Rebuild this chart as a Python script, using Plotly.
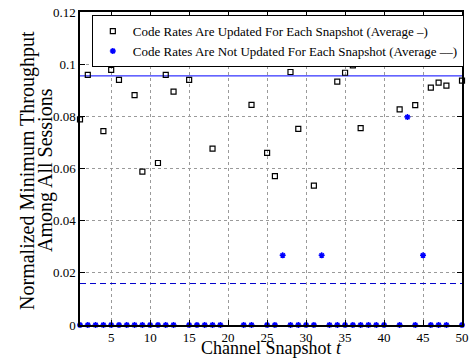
import plotly.graph_objects as go

# Channel snapshot index
snapshots = list(range(1, 51))

# Normalized minimum throughput, code rates updated each snapshot (None = not visible)
updated = [
    0.0788, 0.0959, 0.1045, 0.0743, 0.0978, 0.0940, 0.1045, 0.0881, 0.0588, None,
    0.0621, 0.0959, 0.0895, None, 0.0940, 0.1035, 0.1001, 0.0676, None, None,
    None, None, 0.0844, None, 0.0660, 0.0571, None, 0.0970, 0.0752, 0.1013,
    0.0534, None, None, 0.0933, 0.0967, 0.0995, 0.0755, None, None, None,
    None, 0.0827, None, 0.0843, None, 0.0910, 0.0929, 0.0918, 0.1024, 0.0937,
]

# Normalized minimum throughput, code rates fixed (None = not visible)
not_updated = [
    0, 0, 0, 0, 0, 0, 0, 0, 0, 0,
    0, 0, 0, None, 0, 0, 0, 0, 0, None,
    None, 0, 0, None, 0, 0, 0.0267, 0, 0, 0,
    0, 0.0267, 0, 0, 0, 0, 0, 0, 0, 0,
    None, 0, 0.0797, 0, 0.0267, 0, 0, 0, None, 0,
]

# Averages over all snapshots
avg_updated = 0.0955
avg_not_updated = 0.0159

x_ticks = [5, 10, 15, 20, 25, 30, 35, 40, 45, 50]
y_ticks = [0, 0.02, 0.04, 0.06, 0.08, 0.1, 0.12]
y_tick_text = ["0", "0.02", "0.04", "0.06", "0.08", "0.1", "0.12"]

serif = "Times New Roman"
blue = "#0000ff"

fig = go.Figure()

fig.add_trace(go.Scatter(
    x=[snapshots[0], snapshots[-1]], y=[avg_updated, avg_updated],
    mode="lines", line=dict(color=blue, width=1), showlegend=False, hoverinfo="skip",
))
fig.add_trace(go.Scatter(
    x=[snapshots[0], snapshots[-1]], y=[avg_not_updated, avg_not_updated],
    mode="lines", line=dict(color="#0000cc", width=1, dash="6px,4px"), showlegend=False, hoverinfo="skip",
))

fig.add_trace(go.Scatter(
    x=snapshots, y=updated, mode="markers",
    name="Code Rates Are Updated For Each Snapshot (Average \u2013)",
    marker=dict(symbol="square-open", size=5, color="black", line=dict(width=1.2, color="black")),
    cliponaxis=False,
))
fig.add_trace(go.Scatter(
    x=snapshots, y=not_updated, mode="markers",
    name="Code Rates Are Not Updated For Each Snapshot (Average \u2013\u2013)",
    marker=dict(symbol="asterisk-open", size=5, color=blue, line=dict(width=1.5, color=blue)),
    cliponaxis=False,
))

axis_common = dict(
    showline=True, linecolor="black", linewidth=1.5, mirror="ticks",
    ticks="inside", ticklen=5, tickcolor="black", tickwidth=1,
    showgrid=True, gridcolor="#9a9a9a", griddash="dot", gridwidth=1,
    zeroline=False, tickfont=dict(family=serif, size=13, color="black"),
)

fig.update_xaxes(range=[1, 50], tickvals=x_ticks, ticklabelstandoff=0, **axis_common)
fig.update_yaxes(range=[0, 0.12], tickvals=y_ticks, ticktext=y_tick_text, **axis_common)

title_font = dict(family=serif, size=20, color="black")
fig.add_annotation(
    text="Channel Snapshot <i>t</i>", xref="paper", yref="paper",
    x=0.5, y=-33 / 313, yshift=-2, xanchor="center", yanchor="bottom",
    showarrow=False, font=dict(family=serif, size=18, color="black"),
)
fig.add_annotation(
    text="Normalized Minimum Throughput", xref="paper", yref="paper",
    x=-0.139, y=0.495, xanchor="center", yanchor="middle", textangle=-90,
    showarrow=False, font=title_font,
)
fig.add_annotation(
    text="Among All Sessions", xref="paper", yref="paper",
    x=-0.092, y=0.495, xanchor="center", yanchor="middle", textangle=-90,
    showarrow=False, font=title_font,
)

fig.update_layout(
    width=471, height=358,
    margin=dict(l=80, r=9, t=12, b=33, autoexpand=False),
    plot_bgcolor="white", paper_bgcolor="white",
    legend=dict(
        x=0.031, y=0.99, xanchor="left", yanchor="top",
        bgcolor="white", bordercolor="black", borderwidth=1,
        font=dict(family=serif, size=13, color="black"),
        tracegroupgap=0, itemwidth=30,
    ),
)

fig.write_html("out.html")
